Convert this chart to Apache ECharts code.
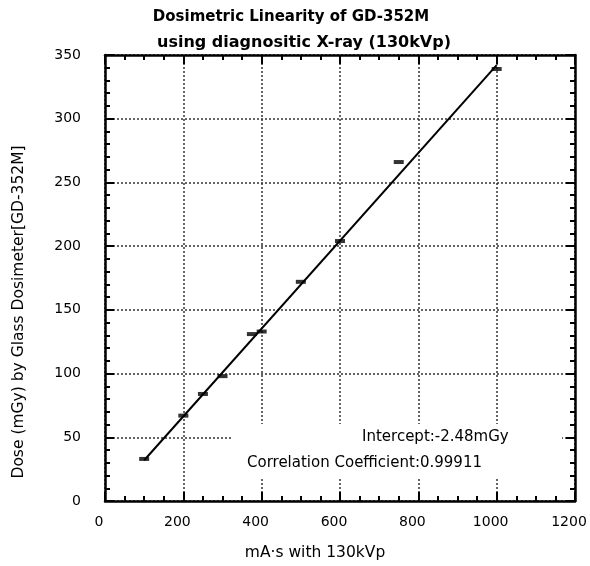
<!DOCTYPE html>
<html>
<head>
<meta charset="utf-8">
<script src="https://cdn.jsdelivr.net/npm/echarts@6/dist/echarts.min.js"></script>
<style>html,body{margin:0;padding:0;background:#fff}#c{width:590px;height:566px}</style>
</head>
<body>
<div id="c"></div>
<script>
// mA·s values and measured dose (mGy)
const mAs = [100, 200, 250, 300, 375, 400, 500, 600, 750, 1000];
const dose = [33, 67, 84, 98, 131, 133, 172, 204, 266, 339];
// regression line endpoints
const fitX = [100, 1000];
const fitY = [32, 342];
const xTicks = [0, 200, 400, 600, 800, 1000, 1200];
const yTicks = [0, 50, 100, 150, 200, 250, 300, 350];
const titleLines = ['Dosimetric Linearity of GD-352M', 'using diagnositic X-ray (130kVp)'];
const notes = ['Intercept:-2.48mGy', 'Correlation Coefficient:0.99911'];
const xName = 'mA\u00b7s with 130kVp';
const yName = 'Dose (mGy) by Glass Dosimeter[GD-352M]';

const chart = echarts.init(document.getElementById('c'));
const axisCommon = {
  type: 'value',
  axisLine: {show: true, onZero: false, lineStyle: {color: '#000', width: 2.5}},
  axisTick: {show: true, inside: true, length: 9, lineStyle: {color: '#000', width: 2}},
  minorTick: {show: true, length: 5, lineStyle: {color: '#000', width: 2}},
};
const gridLine = {show: true, lineStyle: {color: '#333', type: [2, 2], width: 1.5}};
const labelFont = {fontFamily: 'DejaVu Sans', fontSize: 14, color: '#000', formatter: v => String(v)};
const titleFont1 = {fontFamily: 'DejaVu Sans', fontWeight: 'bold', fontSize: 15, color: '#000'};
const titleFont2 = {fontFamily: 'DejaVu Sans', fontWeight: 'bold', fontSize: 16, color: '#000'};

chart.setOption({
  backgroundColor: '#fff',
  animation: false,
  title: [
    {text: titleLines[0], left: 286, top: 5, textAlign: 'center', textStyle: titleFont1},
    {text: titleLines[1], left: 299, top: 30, textAlign: 'center', textStyle: titleFont2}
  ],
  grid: {left: 105, right: 15, top: 55, bottom: 65},
  xAxis: [
    Object.assign({}, axisCommon, {
      min: xTicks[0], max: xTicks[xTicks.length - 1], interval: 200, position: 'bottom',
      minorTick: Object.assign({}, axisCommon.minorTick, {splitNumber: 4}),
      splitLine: gridLine,
      axisLabel: Object.assign({}, labelFont, {margin: 14, padding: [0, 12, 0, 0]})
    }),
    Object.assign({}, axisCommon, {
      min: xTicks[0], max: xTicks[xTicks.length - 1], interval: 200, position: 'top',
      minorTick: Object.assign({}, axisCommon.minorTick, {splitNumber: 4}),
      splitLine: {show: false}, axisLabel: {show: false}
    })
  ],
  yAxis: [
    Object.assign({}, axisCommon, {
      min: yTicks[0], max: yTicks[yTicks.length - 1], interval: 50, position: 'left',
      minorTick: Object.assign({}, axisCommon.minorTick, {splitNumber: 5}),
      splitLine: gridLine,
      axisLabel: Object.assign({}, labelFont, {margin: 24})
    }),
    Object.assign({}, axisCommon, {
      min: yTicks[0], max: yTicks[yTicks.length - 1], interval: 50, position: 'right',
      minorTick: Object.assign({}, axisCommon.minorTick, {splitNumber: 5}),
      splitLine: {show: false}, axisLabel: {show: false}
    })
  ],
  graphic: [
    {type: 'rect', z: 1, shape: {x: 232, y: 424, width: 330, height: 53}, style: {fill: '#fff'}},
    {type: 'text', z: 2, x: 362, y: 437, style: {text: notes[0], fill: '#000',
      font: '15px "DejaVu Sans"', textVerticalAlign: 'middle'}},
    {type: 'text', z: 2, x: 247, y: 463, style: {text: notes[1], fill: '#000',
      font: '15px "DejaVu Sans"', textVerticalAlign: 'middle'}},
    {type: 'text', z: 2, x: 315, y: 553, style: {text: xName, fill: '#000',
      font: '15.5px "DejaVu Sans"', textAlign: 'center', textVerticalAlign: 'middle'}},
    {type: 'text', z: 2, x: 19, y: 312, rotation: Math.PI / 2, style: {text: yName, fill: '#000',
      font: '15.5px "DejaVu Sans"', textAlign: 'center', textVerticalAlign: 'middle'}}
  ],
  series: [
    {type: 'line', data: fitX.map((x, i) => [x, fitY[i]]), symbol: 'none', z: 5,
     lineStyle: {color: '#000', width: 2}},
    {type: 'scatter', data: mAs.map((x, i) => [x, dose[i]]), symbol: 'rect', symbolSize: [10, 4], z: 6,
     itemStyle: {color: '#000'}}
  ]
});
</script>
</body>
</html>
